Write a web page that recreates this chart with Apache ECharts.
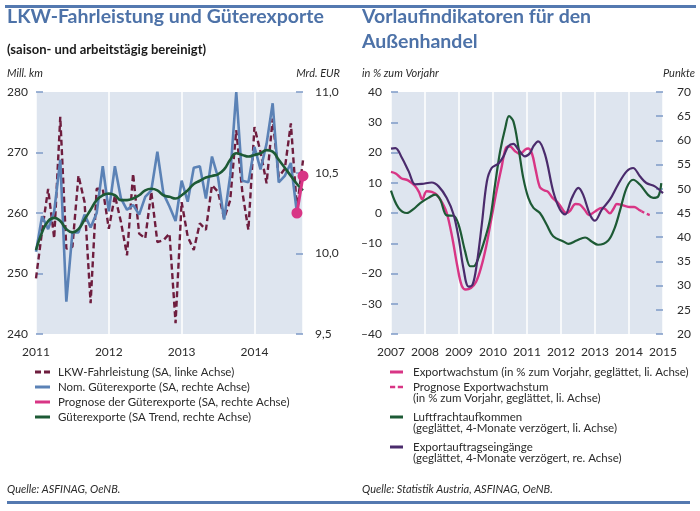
<!DOCTYPE html>
<html><head><meta charset="utf-8">
<script src="https://cdn.jsdelivr.net/npm/echarts@6/dist/echarts.min.js"></script>
<style>html,body{margin:0;padding:0;background:#fff}#c{width:700px;height:511px}</style>
</head><body><div id="c"></div>
<script>
// ---------- Left chart: LKW-Fahrleistung und Güterexporte (monthly) ----------
const months = ['2011-01','2011-02','2011-03','2011-04','2011-05','2011-06','2011-07','2011-08','2011-09','2011-10','2011-11','2011-12',
  '2012-01','2012-02','2012-03','2012-04','2012-05','2012-06','2012-07','2012-08','2012-09','2012-10','2012-11','2012-12',
  '2013-01','2013-02','2013-03','2013-04','2013-05','2013-06','2013-07','2013-08','2013-09','2013-10','2013-11','2013-12',
  '2014-01','2014-02','2014-03','2014-04','2014-05','2014-06','2014-07','2014-08','2014-09'];
const lkwFahrleistung = [249.2,257.0,264.0,255.8,275.9,254.1,254.4,266.2,261.8,245.1,264.0,264.0,
  257.4,262.9,258.5,253.0,266.5,256.6,255.8,263.5,255.2,255.5,256.6,241.8,
  261.8,256.1,253.9,258.3,257.2,264.6,263.5,259.1,262.1,273.7,263.5,257.2,
  274.2,270.1,264.9,275.6,266.0,267.3,274.8,260.7,268.7];
const nomGueterexporte = [10.01,10.23,10.15,10.26,10.58,9.70,10.13,10.13,10.24,10.16,10.25,10.54,
  10.26,10.54,10.34,10.27,10.30,10.24,10.35,10.39,10.63,10.37,10.29,10.20,
  10.45,10.32,10.53,10.54,10.34,10.60,10.47,10.21,10.48,11.00,10.45,10.44,
  10.66,10.52,10.68,10.93,10.44,10.48,10.56,10.25];
const prognoseMonths = ['2014-08','2014-09'];
const prognoseGueterexporte = [10.25,10.48];
const trendGueterexporte = [10.02,10.13,10.20,10.22,10.20,10.15,10.13,10.15,10.21,10.27,10.33,10.36,
  10.37,10.36,10.33,10.33,10.34,10.36,10.39,10.40,10.39,10.36,10.35,10.34,
  10.36,10.39,10.43,10.45,10.47,10.48,10.49,10.52,10.58,10.62,10.61,10.60,
  10.61,10.62,10.64,10.63,10.58,10.53,10.48,10.43,10.39];
const leftYearTicks = [2011,2012,2013,2014];

// ---------- Right chart: Vorlaufindikatoren (time in decimal years) ----------
const exportT = [2007.00,2007.15,2007.30,2007.50,2007.70,2007.82,2007.92,2008.05,2008.20,2008.35,2008.50,2008.64,2008.80,2008.95,
  2009.08,2009.20,2009.35,2009.50,2009.65,2009.80,2009.95,2010.10,2010.25,2010.38,2010.50,2010.65,2010.80,2010.94,
  2011.04,2011.15,2011.25,2011.38,2011.50,2011.62,2011.75,2011.90,2012.00,2012.15,2012.25,2012.43,2012.55,2012.70,2012.82,
  2013.00,2013.20,2013.30,2013.44,2013.55,2013.64,2013.80,2014.00,2014.15,2014.30,2014.37];
const exportV = [13.6,13.0,11.5,10.8,9.0,7.0,4.5,7.2,7.0,6.0,3.5,0.0,-8.0,-17.5,
  -24.0,-25.3,-24.8,-22.8,-18.0,-11.0,-2.0,7.0,15.0,21.5,22.0,20.4,19.5,20.9,
  21.3,19.5,14.5,8.5,7.5,7.0,5.0,3.5,2.0,0.0,0.5,3.0,2.8,1.0,-0.7,
  0.5,1.7,1.3,-0.1,1.5,3.0,2.6,2.0,2.0,1.0,0.6];
const prognoseT = [2014.37,2014.50,2014.66];
const prognoseV = [0.6,-0.2,-0.9];
const luftT = [2007.00,2007.22,2007.47,2007.67,2007.86,2008.10,2008.30,2008.45,2008.64,2008.84,2008.99,2009.18,2009.33,2009.43,
  2009.57,2009.77,2009.92,2010.06,2010.21,2010.36,2010.47,2010.60,2010.75,2010.89,2011.04,2011.19,2011.38,2011.58,2011.77,
  2012.07,2012.22,2012.46,2012.71,2012.90,2013.09,2013.39,2013.58,2013.73,2013.93,2014.12,2014.32,2014.56,2014.71,2014.86,2014.95];
const luftV = [7.4,1.7,0.0,1.4,3.3,5.0,6.1,4.4,-0.8,-0.9,-3.9,-12.7,-17.6,-17.6,
  -14.9,-8.3,-1.7,9.3,20.4,28.1,32.0,30.3,21.5,11.6,5.0,1.7,0.0,-3.9,-7.7,
  -9.4,-10.2,-9.1,-8.1,-9.4,-10.5,-9.1,-4.9,0.6,8.3,11.0,9.4,6.0,5.0,5.5,9.9];
const auftragT = [2007.00,2007.13,2007.32,2007.52,2007.71,2007.91,2008.20,2008.40,2008.64,2008.84,2008.99,2009.13,2009.28,2009.40,
  2009.52,2009.67,2009.82,2009.96,2010.16,2010.31,2010.45,2010.60,2010.75,2010.94,2011.09,2011.19,2011.33,2011.53,2011.77,
  2011.97,2012.12,2012.32,2012.51,2012.65,2012.85,2013.00,2013.20,2013.44,2013.68,2013.93,2014.12,2014.32,2014.51,2014.76,2015.00];
const auftragV = [58.3,58.4,56.4,53.6,50.9,51.0,51.3,50.5,48.1,44.7,39.8,33.6,29.8,30.2,
  34.3,42.6,51.5,54.3,55.2,56.7,58.8,59.3,58.1,56.7,57.4,58.8,59.8,57.1,49.5,
  45.7,44.7,48.1,50.2,48.8,44.7,43.4,45.7,47.8,50.9,53.6,54.3,52.6,51.2,50.5,49.1];
const rightYearTicks = [2007,2008,2009,2010,2011,2012,2013,2014,2015];

// ---------- helpers ----------
const toYear = s => { const [y, m] = s.split('-').map(Number); return y + (m - 1) / 12; };
const zipMonths = (ms, vs) => vs.map((v, i) => [toYear(ms[i]), v]);
const zipT = (ts, vs) => vs.map((v, i) => [ts[i], v]);
const comma = v => v.toFixed(1).replace('.', ',');
const dash = v => v < 0 ? '\u2013' + Math.abs(v) : String(v);

const FONT = 'Lato';
const C = {
  title: '#4d72a8', rule: '#5479b0', bg: '#dee5ef', tick: '#7f9bc7',
  lkw: '#6e1d3e', blue: '#5b82b6', pink: '#d83585', green: '#1d5a35', purple: '#4a2b6c', text: '#2b2b2b'
};
const DASH_ICON = 'path://M0,0h6v3h-6zM9,0h6v3h-6z';

const leftMax = toYear(months[months.length - 1]);

function yAxisBase(extra) {
  return Object.assign({
    type: 'value',
    axisLine: { show: false },
    axisTick: { show: true, inside: true, length: 7, lineStyle: { color: C.tick, width: 1.5 } },
    splitLine: { show: false },
    axisLabel: { color: C.text, fontFamily: FONT, fontSize: 12 }
  }, extra);
}
function xAxisBase(extra) {
  return Object.assign({
    type: 'value',
    interval: 1,
    axisLine: { show: false },
    axisTick: { show: false },
    splitLine: { show: true, lineStyle: { color: '#ffffff', width: 1.5 } },
    axisLabel: { color: C.text, fontFamily: FONT, fontSize: 12, margin: 12,
      formatter: v => Number.isInteger(v) ? String(v) : '' }
  }, extra);
}

const legendText = { color: C.text, fontFamily: FONT, fontSize: 11.5, lineHeight: 15 };
function rightLegend(name, icon, centerY) {
  return {
    orient: 'vertical', left: 390, top: centerY - 7.5, padding: 0, itemWidth: 13, itemHeight: 3, itemGap: 0,
    icon: icon, itemStyle: { borderWidth: 0 }, selectedMode: false,
    textStyle: Object.assign({ padding: [0, 0, 0, 5] }, legendText),
    data: [name]
  };
}

const titleStyle = { color: C.title, fontFamily: FONT, fontWeight: 'bold', fontSize: 19.5, lineHeight: 25 };
const unitStyle = { color: C.text, fontFamily: FONT, fontStyle: 'italic', fontWeight: 'normal', fontSize: 11, lineHeight: 14 };
const secondLine = { fill: C.text, fontFamily: FONT, fontSize: 11.5 };

const option = {
  animation: false,
  backgroundColor: '#ffffff',
  title: [
    { text: 'LKW-Fahrleistung und Güterexporte', left: 7, top: 4.5, padding: 0, textStyle: titleStyle },
    { text: '(saison- und arbeitstägig bereinigt)', left: 7, top: 42, padding: 0,
      textStyle: { color: '#1a1a1a', fontFamily: FONT, fontWeight: 'bold', fontSize: 13, lineHeight: 16 } },
    { text: 'Vorlaufindikatoren für den\nAußenhandel', left: 362, top: 4.5, padding: 0, textStyle: titleStyle },
    { text: 'Mill. km', left: 7, top: 66, padding: 0, textStyle: unitStyle },
    { text: 'Mrd. EUR', right: 360, top: 66, padding: 0, textStyle: unitStyle },
    { text: 'in % zum Vorjahr', left: 362, top: 66, padding: 0, textStyle: unitStyle },
    { text: 'Punkte', right: 5, top: 66, padding: 0, textStyle: unitStyle },
    { text: 'Quelle: ASFINAG, OeNB.', left: 7, top: 482, padding: 0, textStyle: unitStyle },
    { text: 'Quelle: Statistik Austria, ASFINAG, OeNB.', left: 362, top: 482, padding: 0, textStyle: unitStyle }
  ],
  graphic: [
    { type: 'rect', shape: { x: 5, y: 5, width: 691, height: 3 }, style: { fill: C.rule }, silent: true },
    { type: 'rect', shape: { x: 7, y: 501, width: 683, height: 3 }, style: { fill: C.rule }, silent: true },
    { type: 'text', x: 413, y: 398, style: Object.assign({ text: '(in % zum Vorjahr, geglättet, li. Achse)', verticalAlign: 'middle' }, secondLine) },
    { type: 'text', x: 413, y: 428, style: Object.assign({ text: '(geglättet, 4-Monate verzögert, li. Achse)', verticalAlign: 'middle' }, secondLine) },
    { type: 'text', x: 413, y: 458, style: Object.assign({ text: '(geglättet, 4-Monate verzögert, re. Achse)', verticalAlign: 'middle' }, secondLine) }
  ],
  legend: [
    {
      orient: 'vertical', left: 35, top: 364.5, padding: 0, itemWidth: 15, itemHeight: 3, itemGap: 0,
      itemStyle: { borderWidth: 0 }, selectedMode: false,
      textStyle: Object.assign({ padding: [0, 0, 0, 3] }, legendText),
      data: [
        { name: 'LKW-Fahrleistung (SA, linke Achse)', icon: DASH_ICON },
        { name: 'Nom. Güterexporte (SA, rechte Achse)', icon: 'rect' },
        { name: 'Prognose der Güterexporte (SA, rechte Achse)', icon: 'rect' },
        { name: 'Güterexporte (SA Trend, rechte Achse)', icon: 'rect' }
      ]
    },
    rightLegend('Exportwachstum (in % zum Vorjahr, geglättet, li. Achse)', 'rect', 372),
    rightLegend('Prognose Exportwachstum', DASH_ICON, 387),
    rightLegend('Luftfrachtaufkommen', 'rect', 417),
    rightLegend('Exportauftragseingänge', 'rect', 447)
  ],
  grid: [
    { left: 36, top: 92, width: 267, height: 242, show: true, backgroundColor: C.bg, borderWidth: 0 },
    { left: 391, top: 92, width: 272, height: 242, show: true, backgroundColor: C.bg, borderWidth: 0 }
  ],
  xAxis: [
    xAxisBase({ gridIndex: 0, min: leftYearTicks[0], max: leftMax }),
    xAxisBase({ gridIndex: 1, min: rightYearTicks[0], max: rightYearTicks[rightYearTicks.length - 1] })
  ],
  yAxis: [
    yAxisBase({ gridIndex: 0, position: 'left', min: 240, max: 280, interval: 10,
      axisLabel: { color: C.text, fontFamily: FONT, fontSize: 12, margin: 8 } }),
    yAxisBase({ gridIndex: 0, position: 'right', min: 9.5, max: 11, interval: 0.5,
      axisLabel: { color: C.text, fontFamily: FONT, fontSize: 12, margin: 12, formatter: comma } }),
    yAxisBase({ gridIndex: 1, position: 'left', min: -40, max: 40, interval: 10,
      axisLabel: { color: C.text, fontFamily: FONT, fontSize: 12, margin: 9, formatter: dash } }),
    yAxisBase({ gridIndex: 1, position: 'right', min: 20, max: 70, interval: 5,
      axisLabel: { color: C.text, fontFamily: FONT, fontSize: 12, margin: 14 } })
  ],
  series: [
    { name: 'Nom. Güterexporte (SA, rechte Achse)', type: 'line', xAxisIndex: 0, yAxisIndex: 1, z: 3,
      data: zipMonths(months, nomGueterexporte), showSymbol: false, symbol: 'none',
      itemStyle: { color: C.blue }, lineStyle: { color: C.blue, width: 2.6 } },
    { name: 'LKW-Fahrleistung (SA, linke Achse)', type: 'line', xAxisIndex: 0, yAxisIndex: 0, z: 2,
      data: zipMonths(months, lkwFahrleistung), showSymbol: false, symbol: 'none',
      itemStyle: { color: C.lkw }, lineStyle: { color: C.lkw, width: 2.4, type: [6, 3.5] } },
    { name: 'Güterexporte (SA Trend, rechte Achse)', type: 'line', xAxisIndex: 0, yAxisIndex: 1, z: 4,
      data: zipMonths(months, trendGueterexporte), showSymbol: false, symbol: 'none', smooth: 0.5,
      itemStyle: { color: C.green }, lineStyle: { color: C.green, width: 2.6 } },
    { name: 'Prognose der Güterexporte (SA, rechte Achse)', type: 'line', xAxisIndex: 0, yAxisIndex: 1, z: 5,
      data: zipMonths(prognoseMonths, prognoseGueterexporte), symbol: 'circle', symbolSize: 11, showSymbol: true,
      itemStyle: { color: C.pink }, lineStyle: { color: C.pink, width: 3 } },

    { name: 'Exportwachstum (in % zum Vorjahr, geglättet, li. Achse)', type: 'line', xAxisIndex: 1, yAxisIndex: 2, z: 3,
      data: zipT(exportT, exportV), showSymbol: false, symbol: 'none', smooth: 0.35,
      itemStyle: { color: C.pink }, lineStyle: { color: C.pink, width: 2.4 } },
    { name: 'Prognose Exportwachstum', type: 'line', xAxisIndex: 1, yAxisIndex: 2, z: 3,
      data: zipT(prognoseT, prognoseV), showSymbol: false, symbol: 'none', smooth: 0.35,
      itemStyle: { color: C.pink }, lineStyle: { color: C.pink, width: 2.4, type: [3, 3] } },
    { name: 'Luftfrachtaufkommen', type: 'line', xAxisIndex: 1, yAxisIndex: 2, z: 4,
      data: zipT(luftT, luftV), showSymbol: false, symbol: 'none', smooth: 0.35,
      itemStyle: { color: C.green }, lineStyle: { color: C.green, width: 2.2 } },
    { name: 'Exportauftragseingänge', type: 'line', xAxisIndex: 1, yAxisIndex: 3, z: 5,
      data: zipT(auftragT, auftragV), showSymbol: false, symbol: 'none', smooth: 0.35,
      itemStyle: { color: C.purple }, lineStyle: { color: C.purple, width: 2.2 } }
  ]
};

const chart = echarts.init(document.getElementById('c'), null, { renderer: 'canvas' });
chart.setOption(option);
</script>
</body></html>
